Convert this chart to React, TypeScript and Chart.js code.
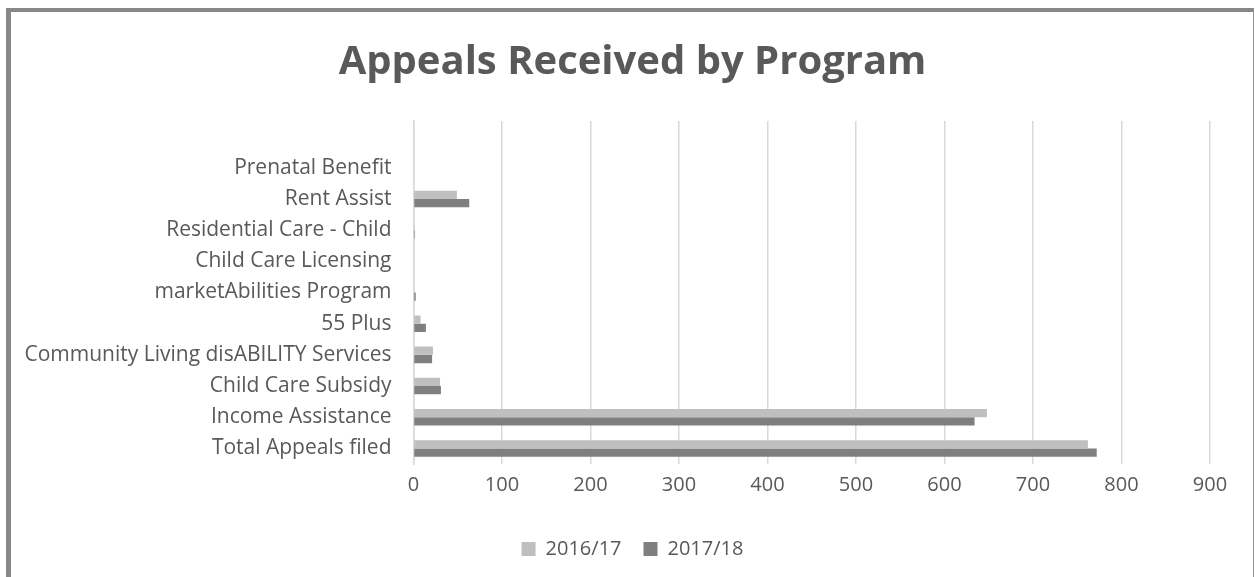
import React, { useEffect, useRef } from "react";
import { Chart, registerables } from "chart.js";

Chart.register(...registerables);

const categories: string[] = [
  "",
  "Prenatal Benefit",
  "Rent Assist",
  "Residential Care - Child",
  "Child Care Licensing",
  "marketAbilities Program",
  "55 Plus",
  "Community Living disABILITY Services",
  "Child Care Subsidy",
  "Income Assistance",
  "Total Appeals filed",
];

const series2016: (number | null)[] = [null, 0, 49, 0.5, 0, 1, 8, 22, 30, 648, 762];
const series2017: (number | null)[] = [null, 0, 63, 1.5, 0, 2.5, 14, 21, 31, 634, 772];

const xTicks: number[] = [0, 100, 200, 300, 400, 500, 600, 700, 800, 900];

const FONT = "'Open Sans', 'DejaVu Sans', sans-serif";
const TEXT = "#595959";

export default function App() {
  const ref = useRef<HTMLCanvasElement | null>(null);

  useEffect(() => {
    if (!ref.current) return;
    const chart = new Chart(ref.current, {
      type: "bar",
      data: {
        labels: categories,
        datasets: [
          {
            label: "2016/17",
            data: series2016,
            backgroundColor: "#bfbfbf",
            borderWidth: 0,
            yAxisID: "y",
          },
          {
            label: "2017/18",
            data: series2017,
            backgroundColor: "#7f7f7f",
            borderWidth: 0,
            yAxisID: "y",
          },
        ],
      },
      options: {
        indexAxis: "y",
        animation: false,
        responsive: false,
        maintainAspectRatio: false,
        layout: { padding: { left: 10, right: 0, top: 0, bottom: 8 } },
        datasets: {
          bar: { categoryPercentage: 0.53, barPercentage: 1 },
        },
        scales: {
          x: {
            min: 0,
            max: 900,
            afterBuildTicks: (scale: any) => {
              scale.ticks = xTicks.map((v) => ({ value: v }));
            },
            afterFit: (scale: any) => {
              scale.height = 53;
            },
            border: { display: false },
            grid: { color: "#d9d9d9", lineWidth: 1.5, drawTicks: false },
            ticks: {
              padding: 9,
              color: TEXT,
              font: { family: FONT, size: 20 },
            },
          },
          y: {
            afterFit: (scale: any) => {
              scale.width = 403.5;
            },
            border: { display: true, color: "#d9d9d9", width: 1.5 },
            grid: { display: false, drawTicks: false },
            ticks: {
              padding: 22,
              color: TEXT,
              autoSkip: false,
              font: { family: FONT, size: 21 },
            },
          },
          yRight: {
            type: "linear",
            axis: "y",
            position: "right",
            min: 0,
            max: 1,
            afterFit: (scale: any) => {
              scale.width = 45;
            },
            border: { display: false },
            grid: { display: false, drawTicks: false },
            ticks: { display: false },
          },
        },
        plugins: {
          title: {
            display: true,
            text: "Appeals Received by Program",
            color: TEXT,
            font: { family: FONT, size: 40, weight: "bold" },
            padding: { top: 39, bottom: 34 },
          },
          legend: {
            position: "bottom",
            labels: {
              boxWidth: 14,
              boxHeight: 14,
              padding: 22,
              color: TEXT,
              font: { family: FONT, size: 20 },
            },
          },
          tooltip: { enabled: false },
        },
      },
    });
    return () => chart.destroy();
  }, []);

  return (
    <div
      style={{
        position: "fixed",
        left: 0,
        top: 0,
        width: 1255,
        height: 577,
        background: "#ffffff",
      }}
    >
      <canvas
        ref={ref}
        width={1255}
        height={577}
        style={{ position: "absolute", left: 0, top: 0, width: 1255, height: 577 }}
      />
      <div
        style={{
          position: "absolute",
          left: 6,
          top: 8,
          width: 1242,
          height: 569,
          borderLeft: "5px solid #878787",
          borderTop: "4px solid #878787",
          borderRight: "1px solid #999999",
          pointerEvents: "none",
        }}
      />
    </div>
  );
}
